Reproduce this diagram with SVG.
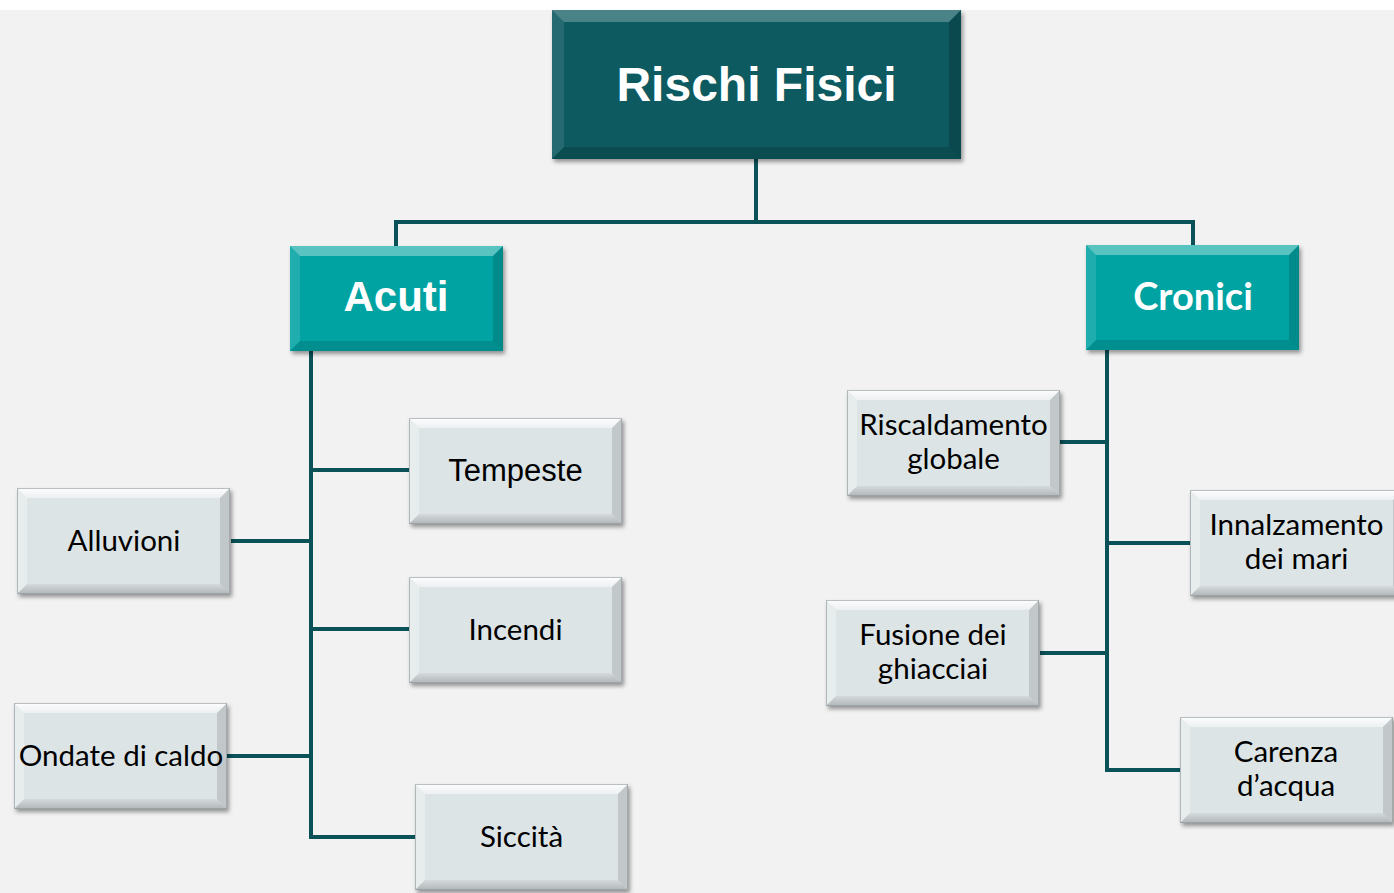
<svg xmlns="http://www.w3.org/2000/svg" xmlns:xlink="http://www.w3.org/1999/xlink" width="1394" height="893" viewBox="0 0 1394 893">
  <style>
    .conn { fill: none; stroke: #0a5158; stroke-width: 4; stroke-linejoin: miter; stroke-linecap: butt; }
    .root { fill: #075a60; }
    .cat { fill: #05a3a2; }
    .leaf { fill: #dde4e6; }
    .hl { fill: #ffffff; }
    .sh { fill: #000000; }
    .t-root { font-family: "Liberation Sans", Arial, sans-serif; font-weight: bold; font-size: 48px; fill: #ffffff; text-anchor: middle; }
    .t-cat { font-family: "Liberation Sans", Arial, sans-serif; font-weight: bold; font-size: 42px; fill: #ffffff; text-anchor: middle; }
    .t-cat2 { font-family: Lato, "Liberation Sans", sans-serif; font-weight: bold; font-size: 38px; fill: #ffffff; text-anchor: middle; }
    .t-leafA { font-family: "Liberation Sans", Arial, sans-serif; font-size: 31px; fill: #000000; text-anchor: middle; }
    .t-leaf { font-family: Lato, "Liberation Sans", sans-serif; font-size: 29.5px; fill: #000000; text-anchor: middle; }
  </style>
  <defs>
    <filter id="shadow" x="-10%" y="-10%" width="125%" height="130%">
      <feDropShadow dx="2" dy="3" stdDeviation="2" flood-color="#000000" flood-opacity="0.4"/>
    </filter>
    <linearGradient id="topHl" x1="0" y1="0" x2="0" y2="1">
      <stop offset="0" stop-color="#ffffff" stop-opacity="0.95"/>
      <stop offset="1" stop-color="#ffffff" stop-opacity="0.45"/>
    </linearGradient>
    <linearGradient id="botSh" x1="0" y1="0" x2="0" y2="1">
      <stop offset="0" stop-color="#000000" stop-opacity="0.04"/>
      <stop offset="1" stop-color="#000000" stop-opacity="0.2"/>
    </linearGradient>
    <!-- bevel for leaf boxes 213x106 -->
    <g id="bevelLeaf">
      <polygon fill="url(#topHl)" points="0,0 213,0 203,10 10,10"/>
      <polygon class="hl" opacity="0.3" points="0,0 10,10 10,96 0,106"/>
      <polygon class="sh" opacity="0.12" points="213,0 213,106 203,96 203,10"/>
      <polygon fill="url(#botSh)" points="0,106 213,106 203,96 10,96"/>
      <rect x="0.5" y="0.5" width="212" height="105" fill="none" stroke="#8a9599" stroke-width="1" opacity="0.6"/>
    </g>
    <g id="bevelCat">
      <polygon class="hl" opacity="0.35" points="0,0 213,0 203,10 10,10"/>
      <polygon class="hl" opacity="0.12" points="0,0 10,10 10,95 0,105"/>
      <polygon class="sh" opacity="0.15" points="213,0 213,105 203,95 203,10"/>
      <polygon class="sh" opacity="0.12" points="0,105 213,105 203,95 10,95"/>
    </g>
  </defs>

  <rect x="0" y="0" width="1394" height="893" fill="#ffffff"/>
  <rect x="0" y="10" width="1394" height="883" fill="#f2f2f2"/>

  <g id="connectors">
    <path class="conn" d="M756,159 V222"/>
    <path class="conn" d="M396,246 V222 H1193 V245"/>
    <path class="conn" d="M311,351 V837 H415"/>
    <path class="conn" d="M311,470 H409"/>
    <path class="conn" d="M231,541 H311"/>
    <path class="conn" d="M311,629 H409"/>
    <path class="conn" d="M227,756 H311"/>
    <path class="conn" d="M1107,350 V770 H1180"/>
    <path class="conn" d="M1059,442 H1107"/>
    <path class="conn" d="M1107,543 H1190"/>
    <path class="conn" d="M1040,653 H1107"/>
  </g>

  <g id="node-rischi-fisici" transform="translate(552,10)">
    <rect class="root" width="409" height="149" filter="url(#shadow)"/>
    <polygon class="hl" opacity="0.25" points="0,0 409,0 397,12 12,12"/>
    <polygon class="hl" opacity="0.1" points="0,0 12,12 12,137 0,149"/>
    <polygon class="sh" opacity="0.18" points="409,0 409,149 397,137 397,12"/>
    <polygon class="sh" opacity="0.15" points="0,149 409,149 397,137 12,137"/>
    <text class="t-root" x="204.5" y="91">Rischi Fisici</text>
  </g>

  <g id="node-acuti" transform="translate(290,246)">
    <rect class="cat" width="213" height="105" filter="url(#shadow)"/>
    <use xlink:href="#bevelCat"/>
    <text class="t-cat" x="106" y="65">Acuti</text>
  </g>

  <g id="node-cronici" transform="translate(1086,245)">
    <rect class="cat" width="213" height="105" filter="url(#shadow)"/>
    <use xlink:href="#bevelCat"/>
    <text class="t-cat2" x="107" y="65">Cronici</text>
  </g>

  <g id="node-tempeste" transform="translate(409,418)">
    <rect class="leaf" width="213" height="106" filter="url(#shadow)"/>
    <use xlink:href="#bevelLeaf"/>
    <text class="t-leafA" x="106.5" y="63">Tempeste</text>
  </g>

  <g id="node-alluvioni" transform="translate(17,488)">
    <rect class="leaf" width="213" height="106" filter="url(#shadow)"/>
    <use xlink:href="#bevelLeaf"/>
    <text class="t-leaf" x="107" y="63">Alluvioni</text>
  </g>

  <g id="node-incendi" transform="translate(409,577)">
    <rect class="leaf" width="213" height="106" filter="url(#shadow)"/>
    <use xlink:href="#bevelLeaf"/>
    <text class="t-leaf" x="106.5" y="63">Incendi</text>
  </g>

  <g id="node-ondate" transform="translate(14,703)">
    <rect class="leaf" width="213" height="106" filter="url(#shadow)"/>
    <use xlink:href="#bevelLeaf"/>
    <text class="t-leaf" x="107" y="63">Ondate di caldo</text>
  </g>

  <g id="node-siccita" transform="translate(415,784)">
    <rect class="leaf" width="213" height="106" filter="url(#shadow)"/>
    <use xlink:href="#bevelLeaf"/>
    <text class="t-leaf" x="106.5" y="63">Siccità</text>
  </g>

  <g id="node-riscaldamento" transform="translate(847,390)">
    <rect class="leaf" width="213" height="106" filter="url(#shadow)"/>
    <use xlink:href="#bevelLeaf"/>
    <text class="t-leaf" x="106.5" y="45">Riscaldamento</text>
    <text class="t-leaf" x="106.5" y="79">globale</text>
  </g>

  <g id="node-innalzamento" transform="translate(1190,490)">
    <rect class="leaf" width="213" height="106" filter="url(#shadow)"/>
    <use xlink:href="#bevelLeaf"/>
    <text class="t-leaf" x="106.5" y="45">Innalzamento</text>
    <text class="t-leaf" x="106.5" y="79">dei mari</text>
  </g>

  <g id="node-fusione" transform="translate(826,600)">
    <rect class="leaf" width="213" height="106" filter="url(#shadow)"/>
    <use xlink:href="#bevelLeaf"/>
    <text class="t-leaf" x="107" y="45">Fusione dei</text>
    <text class="t-leaf" x="107" y="79">ghiacciai</text>
  </g>

  <g id="node-carenza" transform="translate(1180,717)">
    <rect class="leaf" width="213" height="106" filter="url(#shadow)"/>
    <use xlink:href="#bevelLeaf"/>
    <text class="t-leaf" x="106" y="45">Carenza</text>
    <text class="t-leaf" x="106" y="79">d’acqua</text>
  </g>
</svg>
